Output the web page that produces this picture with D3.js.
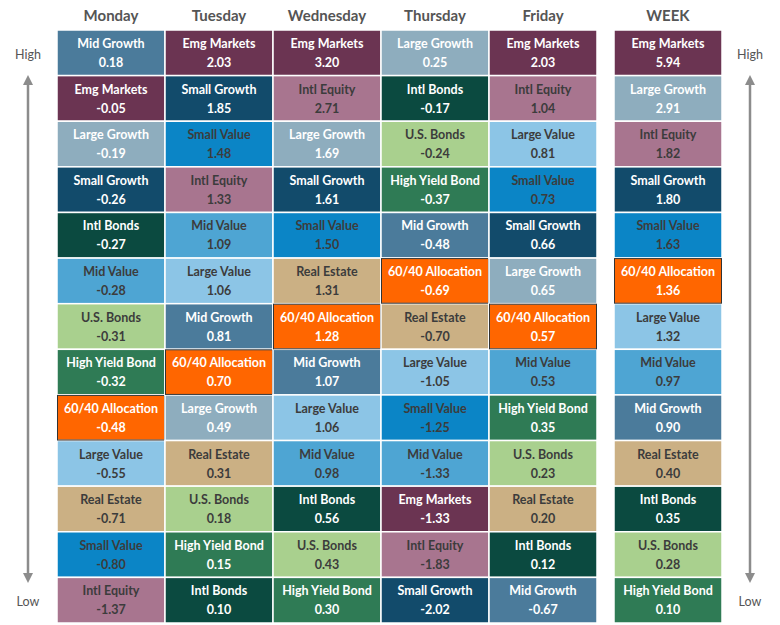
<!DOCTYPE html>
<html><head><meta charset="utf-8">
<script src="https://cdn.jsdelivr.net/npm/d3@7"></script>
<style>body{margin:0;background:#fff}</style></head>
<body><svg id="chart" width="780" height="625"></svg>
<script>
const days = ["Monday", "Tuesday", "Wednesday", "Thursday", "Friday", "WEEK"];
const monNames = ["Mid Growth","Emg Markets","Large Growth","Small Growth","Intl Bonds","Mid Value","U.S. Bonds","High Yield Bond","60/40 Allocation","Large Value","Real Estate","Small Value","Intl Equity"];
const monVals = [0.18,-0.05,-0.19,-0.26,-0.27,-0.28,-0.31,-0.32,-0.48,-0.55,-0.71,-0.80,-1.37];
const tueNames = ["Emg Markets","Small Growth","Small Value","Intl Equity","Mid Value","Large Value","Mid Growth","60/40 Allocation","Large Growth","Real Estate","U.S. Bonds","High Yield Bond","Intl Bonds"];
const tueVals = [2.03,1.85,1.48,1.33,1.09,1.06,0.81,0.70,0.49,0.31,0.18,0.15,0.10];
const wedNames = ["Emg Markets","Intl Equity","Large Growth","Small Growth","Small Value","Real Estate","60/40 Allocation","Mid Growth","Large Value","Mid Value","Intl Bonds","U.S. Bonds","High Yield Bond"];
const wedVals = [3.20,2.71,1.69,1.61,1.50,1.31,1.28,1.07,1.06,0.98,0.56,0.43,0.30];
const thuNames = ["Large Growth","Intl Bonds","U.S. Bonds","High Yield Bond","Mid Growth","60/40 Allocation","Real Estate","Large Value","Small Value","Mid Value","Emg Markets","Intl Equity","Small Growth"];
const thuVals = [0.25,-0.17,-0.24,-0.37,-0.48,-0.69,-0.70,-1.05,-1.25,-1.33,-1.33,-1.83,-2.02];
const friNames = ["Emg Markets","Intl Equity","Large Value","Small Value","Small Growth","Large Growth","60/40 Allocation","Mid Value","High Yield Bond","U.S. Bonds","Real Estate","Intl Bonds","Mid Growth"];
const friVals = [2.03,1.04,0.81,0.73,0.66,0.65,0.57,0.53,0.35,0.23,0.20,0.12,-0.67];
const wkNames = ["Emg Markets","Large Growth","Intl Equity","Small Growth","Small Value","60/40 Allocation","Large Value","Mid Value","Mid Growth","Real Estate","Intl Bonds","U.S. Bonds","High Yield Bond"];
const wkVals = [5.94,2.91,1.82,1.80,1.63,1.36,1.32,0.97,0.90,0.40,0.35,0.28,0.10];
const colNames = [monNames, tueNames, wedNames, thuNames, friNames, wkNames];
const colVals = [monVals, tueVals, wedVals, thuVals, friVals, wkVals];

const fill = {"Mid Growth":"#4b7b9b","Emg Markets":"#6b3452","Large Growth":"#8eadbe","Small Growth":"#124b6b",
  "Intl Bonds":"#0b4a40","Mid Value":"#4ea5d3","U.S. Bonds":"#a9d08e","High Yield Bond":"#2f7b55",
  "60/40 Allocation":"#ff6600","Large Value":"#8cc5e6","Real Estate":"#cbb084","Small Value":"#0b85c6","Intl Equity":"#a8758f"};
const darkText = new Set(["Mid Value","U.S. Bonds","Large Value","Real Estate","Small Value","Intl Equity"]);

const svg = d3.select("#chart");
const font = "Lato, 'Open Sans', sans-serif";
const x = d3.scaleOrdinal().domain(days).range([57, 165, 273, 381, 489, 614]);
const cw = 108;
const y = d3.scaleBand().domain(d3.range(13)).range([30, 623]);

svg.selectAll(".hdr").data(days).join("text")
  .attr("x", d => x(d) + cw / 2).attr("y", 21).attr("text-anchor", "middle")
  .attr("font-family", font).attr("font-size", 15).attr("font-weight", "bold").attr("fill", "#555")
  .text(d => d);

days.forEach((day, c) => {
  const g = svg.append("g");
  const cells = colNames[c].map((n, i) => ({ n, v: colVals[c][i], i }));
  g.selectAll("rect").data(cells).join("rect")
    .attr("x", x(day)).attr("y", d => y(d.i)).attr("width", cw).attr("height", y.bandwidth())
    .attr("fill", d => fill[d.n]).attr("stroke", "#fff").attr("stroke-width", 1.5);
  g.selectAll("rect.hl").data(cells.filter(d => d.n === "60/40 Allocation")).join("rect")
    .attr("x", x(day) + 0.5).attr("y", d => y(d.i) + 0.5).attr("width", cw - 1).attr("height", y.bandwidth() - 1)
    .attr("fill", "none").attr("stroke", "#333").attr("stroke-width", 1);
  const t = g.selectAll("text").data(cells).join("text")
    .attr("text-anchor", "middle").attr("font-family", font).attr("font-size", 12.5).attr("font-weight", "bold")
    .attr("fill", d => darkText.has(d.n) ? "#3c3c3c" : "#fff");
  t.append("tspan").attr("x", x(day) + cw / 2).attr("y", d => y(d.i) + 18).text(d => d.n);
  t.append("tspan").attr("x", x(day) + cw / 2).attr("y", d => y(d.i) + 37).text(d => d.v.toFixed(2));
});

// High/Low arrows
svg.append("defs").append("marker").attr("id", "ah").attr("viewBox", "0 0 10 10").attr("refX", 5).attr("refY", 5)
  .attr("markerWidth", 4).attr("markerHeight", 4).attr("orient", "auto-start-reverse")
  .append("path").attr("d", "M0,0L10,5L0,10Z").attr("fill", "#8c8c8c");
[28, 750].forEach(ax => {
  svg.append("line").attr("x1", ax).attr("x2", ax).attr("y1", 80).attr("y2", 578)
    .attr("stroke", "#8c8c8c").attr("stroke-width", 2.5)
    .attr("marker-start", "url(#ah)").attr("marker-end", "url(#ah)");
  svg.append("text").attr("x", ax).attr("y", 59).attr("text-anchor", "middle").attr("font-family", font)
    .attr("font-size", 12.5).attr("fill", "#555").text("High");
  svg.append("text").attr("x", ax).attr("y", 606).attr("text-anchor", "middle").attr("font-family", font)
    .attr("font-size", 12.5).attr("fill", "#555").text("Low");
});
</script></body></html>
